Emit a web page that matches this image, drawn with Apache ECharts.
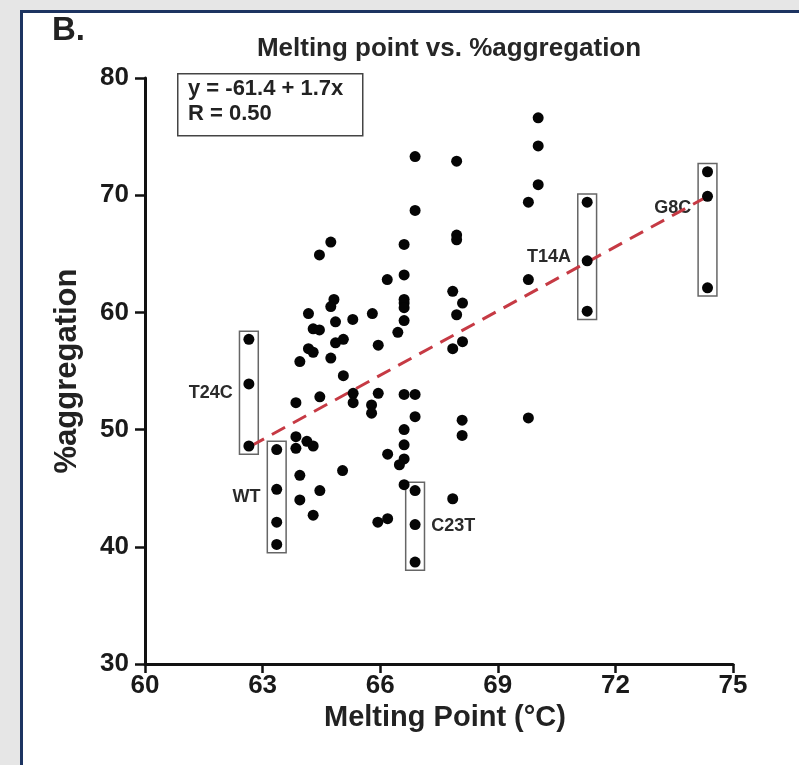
<!DOCTYPE html>
<html>
<head>
<meta charset="utf-8">
<script src="https://cdn.jsdelivr.net/npm/echarts@6/dist/echarts.min.js"></script>
<style>
  html, body { margin: 0; padding: 0; background: #e6e6e6; width: 799px; height: 765px; overflow: hidden; }
  #panel { position: absolute; left: 20px; top: 10px; width: 800px; height: 800px; background: #ffffff;
           border-left: 3px solid #1d3461; border-top: 3px solid #1d3461; box-sizing: border-box; }
  #chart { position: absolute; left: 0; top: 0; width: 799px; height: 765px; }
</style>
</head>
<body>
<div id="panel"></div>
<div id="chart"></div>
<script>
// ---- Data ----
const xTicks = [60, 63, 66, 69, 72, 75];
const yTicks = [30, 40, 50, 60, 70, 80];

// Unlabelled points: melting point (°C) and %aggregation
const meltingPoint = [
  66.89, 70.03, 70.03, 70.03, 69.78, 67.95, 66.89, 64.74, 64.45, 67.95,
  67.95, 66.61, 66.61, 66.18, 66.61, 66.61, 66.61, 66.61, 66.45, 64.82,
  64.74, 64.17, 65.80, 65.30, 64.86, 64.29, 64.45, 65.95, 65.06, 64.86,
  64.17, 64.29, 64.74, 63.95, 65.06, 67.85, 68.10, 67.95, 68.10, 67.85,
  69.78, 66.61, 66.89, 66.89, 68.09, 68.09, 69.78, 66.61, 66.61, 66.61,
  66.49, 66.61, 67.85, 63.85, 64.46, 65.31, 65.31, 65.95, 65.78, 65.78,
  66.19, 63.85, 63.85, 64.13, 64.29, 65.04, 63.95, 64.46, 63.95, 64.29,
  65.94, 66.19
];
const aggregation = [
  73.3, 76.6, 74.2, 70.9, 69.4, 72.9, 68.7, 66.0, 64.9, 66.6,
  66.2, 65.8, 63.2, 62.8, 61.1, 60.8, 60.4, 59.3, 58.3, 61.1,
  60.5, 59.9, 59.9, 59.4, 59.2, 58.6, 58.5, 57.2, 57.7, 57.4,
  56.9, 56.6, 56.1, 55.8, 54.6, 61.8, 60.8, 59.8, 57.5, 56.9,
  62.8, 53.0, 53.0, 51.1, 50.8, 49.5, 51.0, 50.0, 48.7, 47.5,
  47.0, 45.3, 44.1, 52.3, 52.8, 53.1, 52.3, 53.1, 52.1, 51.4,
  47.9, 49.4, 48.4, 49.0, 48.6, 46.5, 46.1, 44.8, 44.0, 42.7,
  42.1, 42.4
];

// Highlighted variants (boxed)
const groupNames = ['T24C', 'WT', 'C23T', 'T14A', 'G8C'];
const groupMelting = [62.65, 63.36, 66.89, 71.28, 74.35];
const groupAggregation = [
  [57.7, 53.9, 48.6],
  [48.3, 44.9, 42.1, 40.2],
  [44.8, 41.9, 38.7],
  [69.4, 64.4, 60.1],
  [72.0, 69.9, 62.1]
];
const groupLabelSide = ['left', 'left', 'right', 'left', 'left'];

// Regression line as drawn
const fitX = [62.7, 74.35];
const fitY = [48.6, 69.9];

const equationText = ['y = -61.4 + 1.7x', 'R = 0.50'];

// ---- Chart ----
const FONT = '"Liberation Sans", Arial, Helvetica, sans-serif';
const chart = echarts.init(document.getElementById('chart'), null, { renderer: 'canvas' });

const dotStyle = { color: '#050505', opacity: 1 };
const series = [];

series.push({
  type: 'line',
  data: fitX.map((x, i) => [x, fitY[i]]),
  symbol: 'none',
  lineStyle: { color: '#c63a44', width: 3, type: [15, 9] },
  z: 1,
  silent: true
});

series.push({
  type: 'scatter',
  data: meltingPoint.map((x, i) => [x, aggregation[i]]),
  symbolSize: 11,
  itemStyle: dotStyle,
  z: 3
});

groupNames.forEach((name, gi) => {
  const ys = groupAggregation[gi];
  const x = groupMelting[gi];
  const ymin = Math.min(...ys), ymax = Math.max(...ys);
  series.push({
    type: 'scatter',
    name: name,
    data: ys.map(y => [x, y]),
    symbolSize: 11,
    itemStyle: dotStyle,
    z: 3,
    markArea: {
      silent: true,
      itemStyle: { color: 'rgba(0,0,0,0)', borderColor: '#666', borderWidth: 1.5 },
      label: {
        show: true,
        position: groupLabelSide[gi],
        distance: 6,
        offset: name === 'G8C' ? [0, -22] : [0, 0],
        formatter: name,
        fontFamily: FONT,
        fontWeight: 'bold',
        fontSize: 18,
        color: '#2a2a2a'
      },
      data: [[{ coord: [x - 0.24, ymax + 0.7] }, { coord: [x + 0.24, ymin - 0.7] }]]
    }
  });
});

const option = {
  animation: false,
  backgroundColor: 'transparent',
  grid: { left: 145, right: 66, top: 78, bottom: 101, containLabel: false },
  title: {
    text: 'Melting point vs. %aggregation',
    left: 444, top: 31, textAlign: 'center',
    textStyle: { fontFamily: FONT, fontWeight: 'bold', fontSize: 26, color: '#262626' }
  },
  xAxis: {
    type: 'value', min: xTicks[0], max: xTicks[xTicks.length - 1], interval: 3,
    name: 'Melting Point (°C)', nameLocation: 'middle', nameGap: 35,
    nameTextStyle: { fontFamily: FONT, fontWeight: 'bold', fontSize: 29, color: '#222', padding: [0, 0, 0, 12] },
    axisLine: { lineStyle: { color: '#111', width: 3 } },
    axisTick: { show: true, length: 9, lineStyle: { color: '#111', width: 2.5 } },
    axisLabel: { margin: 9, fontFamily: FONT, fontWeight: 'bold', fontSize: 26, color: '#1a1a1a' },
    splitLine: { show: false }
  },
  yAxis: {
    type: 'value', min: yTicks[0], max: yTicks[yTicks.length - 1], interval: 10,
    name: '%aggregation', nameLocation: 'middle', nameGap: 62, nameRotate: 90,
    nameTextStyle: { fontFamily: FONT, fontWeight: 'bold', fontSize: 31, color: '#222' },
    axisLine: { show: true, lineStyle: { color: '#111', width: 3 } },
    axisTick: { show: true, length: 10, lineStyle: { color: '#111', width: 2.5 } },
    axisLabel: { margin: 16, fontFamily: FONT, fontWeight: 'bold', fontSize: 26, color: '#1a1a1a' },
    splitLine: { show: false }
  },
  graphic: [
    { type: 'text', left: 52, top: 14,
      style: { text: 'B.', fontFamily: FONT, fontWeight: 'bold', fontSize: 33, fill: '#222' } },
    { type: 'rect', left: 177, top: 73, shape: { width: 185, height: 62 },
      style: { fill: '#fff', stroke: '#444', lineWidth: 1.5 }, z: 10 },
    { type: 'text', left: 188, top: 78, z: 11,
      style: { text: equationText[0], fontFamily: FONT, fontWeight: 'bold', fontSize: 22, fill: '#222' } },
    { type: 'text', left: 188, top: 103, z: 11,
      style: { text: equationText[1], fontFamily: FONT, fontWeight: 'bold', fontSize: 22, fill: '#222' } }
  ],
  series: series
};
chart.setOption(option);
</script>
</body>
</html>
